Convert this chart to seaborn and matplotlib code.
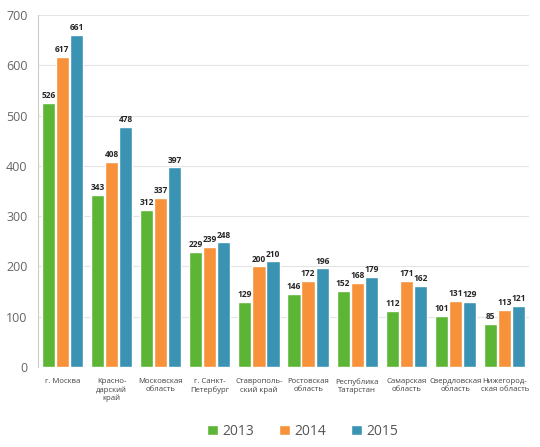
import pandas as pd
import matplotlib
matplotlib.use('Agg')
import matplotlib.pyplot as plt
import seaborn as sns

regions = ['г. Москва', 'Красно-\nдарский\nкрай', 'Московская\nобласть', 'г. Санкт-\nПетербург',
           'Ставрополь-\nский край', 'Ростовская\nобласть', 'Республика\nТатарстан',
           'Самарская\nобласть', 'Свердловская\nобласть', 'Нижегород-\nская область']
years = ['2013', '2014', '2015']
v2013 = [526, 343, 312, 229, 129, 146, 152, 112, 101, 85]
v2014 = [617, 408, 337, 239, 200, 172, 168, 171, 131, 113]
v2015 = [661, 478, 397, 248, 210, 196, 179, 162, 129, 121]
colors = ['#5cb535', '#f7923a', '#3a93b3']

rows = []
for y, vals in zip(years, [v2013, v2014, v2015]):
    for r, v in zip(regions, vals):
        rows.append({'region': r, 'year': y, 'value': v})
df = pd.DataFrame(rows)

sns.set_style('white')
plt.rcParams['font.family'] = ['Open Sans', 'DejaVu Sans']
fig = plt.figure(figsize=(5.4, 4.47), dpi=100)
ax = fig.add_axes([0.07, 0.179, 0.91, 0.787])
sns.barplot(data=df, x='region', y='value', hue='year', palette=colors,
            width=0.86, gap=0.06, ax=ax, saturation=1)
for c in ax.containers:
    ax.bar_label(c, fontsize=6, fontweight='bold', padding=2)

ax.set_ylim(0, 700)
ax.set_yticks(range(0, 701, 100))
ax.yaxis.grid(True, color='#e4e4e4', lw=0.8)
ax.set_axisbelow(True)
for s in ['top', 'right', 'bottom']:
    ax.spines[s].set_visible(False)
ax.spines['left'].set_color('#cccccc')
ax.tick_params(axis='y', labelsize=9, colors='#666666', length=4, color='#cccccc')
ax.tick_params(axis='x', labelsize=5.6, colors='#444444', length=0, pad=8)
ax.set_xlabel('')
ax.set_ylabel('')
handles, labels = ax.get_legend_handles_labels()
ax.get_legend().remove()
fig.legend(handles, labels, loc='center', bbox_to_anchor=(0.56, 0.035), ncol=3, frameon=False,
           fontsize=10, handlelength=0.8, handleheight=0.8, columnspacing=1.8,
           handletextpad=0.3, labelcolor='#555555')
fig.savefig('out.png', dpi=100)
